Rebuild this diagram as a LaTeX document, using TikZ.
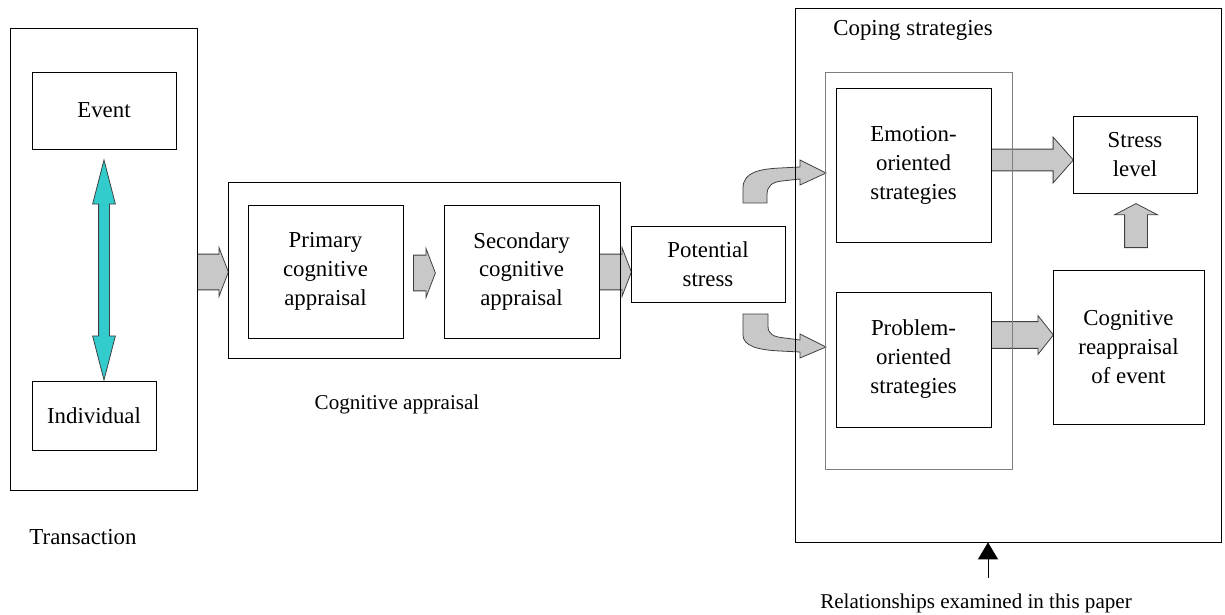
\documentclass[tikz,border=0pt]{standalone}
\usepackage{fontspec}
\setmainfont{Liberation Serif}
\usetikzlibrary{arrows.meta, positioning, shapes.arrows, calc, backgrounds}
\definecolor{blockgray}{HTML}{C8C8C8}
\definecolor{edgegray}{HTML}{3F3F3F}
\definecolor{linkcyan}{HTML}{33CCCC}
\definecolor{framegray}{HTML}{7F7F7F}

\begin{document}
\begin{tikzpicture}[
  x=0.02cm, y=-0.02cm,
  every node/.style={font=\fontsize{13}{16.5}\selectfont},
  box/.style={rectangle, draw=black, line width=0.45pt, align=center, inner sep=0pt},
  caption/.style={font=\fontsize{12}{14}\selectfont, inner sep=0pt},
  blockarr/.style={single arrow, anchor=tail, draw=edgegray, fill=blockgray, line width=0.45pt, inner xsep=0pt, inner ysep=0.35cm, single arrow head extend=0.13cm, single arrow tip angle=138},
]
\useasboundingbox (0,0) rectangle (1225,615);

% Transaction
\node[box, minimum width=3.74cm, minimum height=9.24cm] (trans) at (103.5, 259) {};
\node[box, minimum width=2.88cm, minimum height=1.54cm] (event) at (104, 110.5) {Event};
\node[box, minimum width=2.48cm, minimum height=1.38cm] (indiv) at (94, 415.5) {Individual};
\node[caption, font=\fontsize{13}{15}\selectfont] (translbl) at (83, 537) {Transaction};

% Cognitive appraisal
\node[box, minimum width=7.84cm, minimum height=3.52cm] (appr) at (424, 270) {};
\node[box, minimum width=3.1cm, minimum height=2.66cm] (prim) at (325.5, 271.5) {Primary\\cognitive\\appraisal};
\node[box, minimum width=3.1cm, minimum height=2.66cm] (sec) at (521.5, 271.5) {Secondary\\cognitive\\appraisal};
\node[caption] (apprlbl) at (397, 404) {Cognitive appraisal};
\node[box, minimum width=3.08cm, minimum height=1.52cm] (pot) at (708, 264) {Potential\\stress};

% Coping strategies
\node[box, minimum width=8.52cm, minimum height=10.68cm] (coping) at (1008, 275) {};
\node[caption, font=\fontsize{13}{15}\selectfont] (copinglbl) at (913, 30) {Coping strategies};
\node[box, draw=framegray, minimum width=3.74cm, minimum height=7.94cm] (strat) at (918.5, 270.5) {};
\node[box, minimum width=3.1cm, minimum height=3.08cm] (emo) at (913.5, 165) {Emotion-\\oriented\\strategies};
\node[box, minimum width=3.1cm, minimum height=2.7cm] (prob) at (913.5, 359.5) {Problem-\\oriented\\strategies};
\node[box, minimum width=2.48cm, minimum height=1.54cm] (stress) at (1135, 154.5) {Stress\\level};
\node[box, minimum width=3.02cm, minimum height=3.08cm] (reapp) at (1128.5, 347) {Cognitive\\reappraisal\\of event};
\node[caption] (rellbl) at (976, 603) {Relationships examined in this paper};

% Block arrows
\begin{scope}[on background layer]
\node[double arrow, rotate=90, draw=edgegray, fill=linkcyan, line width=0.45pt, inner xsep=0pt, inner ysep=0.1cm, minimum height=4.4cm, double arrow head extend=0.12cm, double arrow tip angle=29] (link) at (104, 270) {};
\node[blockarr, minimum height=0.62cm] (a1) at (197, 272) {};
\node[blockarr, minimum height=0.44cm] (a2) at (413, 273) {};
\node[blockarr, minimum height=0.64cm] (a3) at (599, 272) {};
\node[blockarr, minimum height=1.64cm, inner ysep=0.21cm, single arrow head extend=0.24cm, single arrow tip angle=97] (a4) at (991, 160) {};
\node[blockarr, minimum height=1.24cm, inner ysep=0.26cm, single arrow head extend=0.12cm, single arrow tip angle=103] (a5) at (991, 335) {};
\node[blockarr, rotate=90, minimum height=0.88cm, inner ysep=0.22cm, single arrow head extend=0.2cm, single arrow tip angle=125] (a6) at (1136, 248) {};

% Curved arrows from potential stress
\draw[edgegray, fill=blockgray, line width=0.45pt] (743,203) -- (743,188) .. controls (743,172) and (760,169) .. (780,168) -- (800,167) -- (800,160) -- (826,173) -- (800,185) -- (800,179) -- (782,181) .. controls (772,182) and (767,186) .. (767,195) -- (767,203) -- cycle;
\draw[edgegray, fill=blockgray, line width=0.45pt] (743,314) -- (743,335) .. controls (743,346) and (758,350) .. (780,351) -- (800,352) -- (800,358) -- (826,347) -- (800,334) -- (800,340) -- (785,338) .. controls (773,337) and (768,334) .. (768,326) -- (768,314) -- cycle;
\end{scope}

% Pointer to the examined relationships
\coordinate (relfoot) at (988, 578);
\draw[line width=0.45pt, -{Triangle[length=0.34cm, width=0.4cm]}] (relfoot) -- (relfoot |- coping.south);

\end{tikzpicture}
\end{document}
